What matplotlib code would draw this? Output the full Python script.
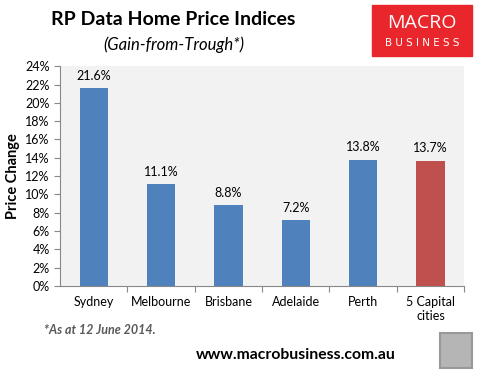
import matplotlib.pyplot as plt
from matplotlib.patches import Rectangle
from matplotlib.ticker import MultipleLocator, PercentFormatter

cities = ['Sydney', 'Melbourne', 'Brisbane', 'Adelaide', 'Perth', '5 Capital\ncities']
gains = [21.6, 11.1, 8.8, 7.2, 13.8, 13.7]
colors = ['#4F81BD'] * 5 + ['#C0504D']

plt.rcParams['font.family'] = ['Lato', 'DejaVu Sans']

fig = plt.figure(figsize=(4.85, 3.76), dpi=100)
ax = fig.add_axes([0.124, 0.239, 0.833, 0.585])
ax.set_facecolor('#F2F2F2')

x = range(len(cities))
bars = ax.bar(x, gains, width=0.42, color=colors)
for b, v in zip(bars, gains):
    ax.text(b.get_x() + b.get_width() / 2, v + 0.7, f'{v:.1f}%', ha='center', va='bottom', fontsize=9)

ax.set_xlim(-0.5, len(cities) - 0.5)
ax.set_ylim(0, 24)
ax.yaxis.set_major_locator(MultipleLocator(2))
ax.yaxis.set_major_formatter(PercentFormatter(decimals=0))
ax.set_xticks([i + 0.5 for i in range(len(cities))], minor=False)
ax.set_xticklabels([])
ax.set_xticks(list(x), minor=True)
ax.set_xticklabels(cities, minor=True, fontsize=9)
ax.tick_params(axis='x', which='minor', length=0, pad=7)
ax.tick_params(axis='x', which='major', length=4, color='#888888')
ax.tick_params(axis='y', length=4, color='#888888', labelsize=9)
ax.set_ylabel('Price Change', fontsize=10.5, fontweight='bold', labelpad=4)
for s in ['top', 'right']:
    ax.spines[s].set_visible(False)
ax.spines['left'].set_color('#888888')
ax.spines['bottom'].set_color('#888888')

fig.text(0.358, 0.947, 'RP Data Home Price Indices', ha='center', va='center', fontsize=14, fontweight='bold')
fig.text(0.358, 0.88, '(Gain-from-Trough*)', ha='center', va='center', fontsize=12, style='italic')

# logo box
fig.patches.append(Rectangle((0.767, 0.851), 0.206, 0.136, transform=fig.transFigure, color='#E8262B'))
fig.text(0.87, 0.94, 'MACRO', ha='center', va='center', fontsize=14, color='white', family='Open Sans')
fig.text(0.87, 0.885, 'B U S I N E S S', ha='center', va='center', fontsize=7.5, color='white',
         family='DejaVu Sans')

fig.text(0.091, 0.122, '*As at 12 June 2014.', ha='left', va='center', fontsize=9,
         style='italic', fontweight='bold', color='#595959')
fig.text(0.61, 0.056, 'www.macrobusiness.com.au', ha='center', va='center', fontsize=11.3, fontweight='bold')

# fox picture placeholder
fig.patches.append(Rectangle((0.907, 0.021), 0.066, 0.093, transform=fig.transFigure,
                             facecolor='#B5B5B5', edgecolor='#999999', linewidth=1.5))

fig.savefig('out.png', dpi=100)
